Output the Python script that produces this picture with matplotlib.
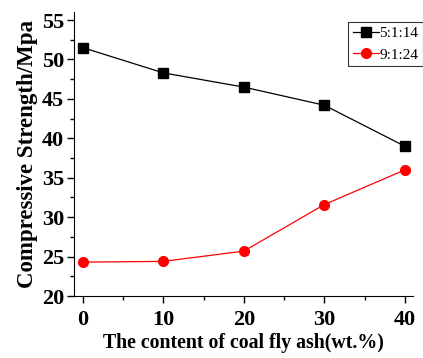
import matplotlib
matplotlib.use("Agg")
import matplotlib.pyplot as plt
from matplotlib.ticker import MultipleLocator

x = [0, 10, 20, 30, 40]
s1_label = "5:1:14"
s1 = [51.5, 48.3, 46.5, 44.2, 39.0]
s2_label = "9:1:24"
s2 = [24.3, 24.4, 25.7, 31.6, 36.0]

plt.rcParams['font.family'] = ['Liberation Serif']
fig = plt.figure(figsize=(4.23, 3.58), dpi=100)
ax = fig.add_axes([0.175, 0.173, 0.801, 0.793])
ax.plot(x, s1, color='black', marker='s', markersize=6.5, lw=0.9, label=s1_label)
ax.plot(x, s2, color='red', marker='o', markersize=7, lw=0.9, label=s2_label)
ax.set_xlim(-1.1, 41)
ax.set_ylim(20, 56)
ax.xaxis.set_major_locator(MultipleLocator(10))
ax.xaxis.set_minor_locator(MultipleLocator(5))
ax.yaxis.set_major_locator(MultipleLocator(5))
ax.yaxis.set_minor_locator(MultipleLocator(2.5))
ax.spines['top'].set_visible(False)
ax.spines['right'].set_visible(False)
ax.tick_params(which='major', direction='out', length=5, width=1, labelsize=16, pad=2)
ax.tick_params(axis='x', which='major', pad=5)
ax.tick_params(which='minor', direction='out', length=3, width=1)
for lab in ax.get_xticklabels() + ax.get_yticklabels():
    lab.set_fontweight('bold')
ax.set_xlabel("The content of coal fly ash(wt.%)", fontsize=14.3, fontweight='bold', labelpad=2)
ax.set_ylabel("Compressive Strength/Mpa", fontsize=16.5, fontweight='bold', labelpad=3)
leg = fig.legend(loc='upper right', bbox_to_anchor=(1.0, 1-22/358), frameon=True,
                 fancybox=False, edgecolor='black', fontsize=11, handlelength=1.7,
                 handletextpad=0.05, borderpad=0.3, labelspacing=0.5, borderaxespad=0)
leg.get_frame().set_linewidth(0.8)
fig.savefig("out.png", dpi=100)
